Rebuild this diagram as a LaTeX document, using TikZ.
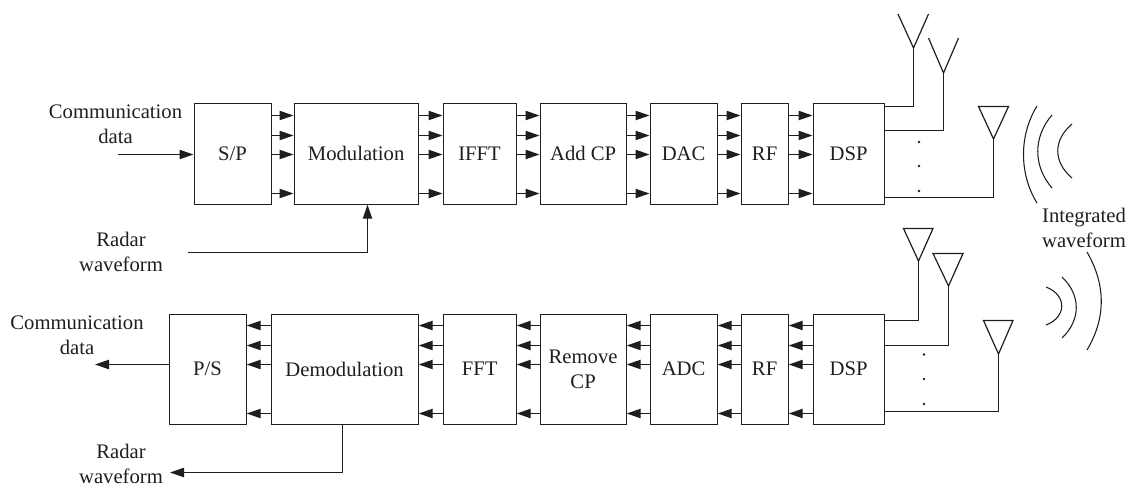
\documentclass[tikz,border=0pt]{standalone}
\usepackage{fontspec}
\setmainfont{Liberation Serif}
\usetikzlibrary{arrows.meta}
\definecolor{ink}{HTML}{1E1E1E}
\tikzset{
  x=0.75pt,y=-0.75pt,
  blockbox/.style={draw=ink,line width=0.9pt,inner sep=0pt,minimum height=#1*0.75pt,anchor=north west,text=ink,font=\fontsize{15.5pt}{18.7pt}\selectfont,align=center},
  lbl/.style={inner sep=0pt,text=ink,font=\fontsize{15.5pt}{18.7pt}\selectfont,align=center},
  flow/.style={-{Triangle[length=10.5pt,width=7pt]},draw=ink,line width=0.9pt},
  wire/.style={draw=ink,line width=0.9pt},
  wave/.style={draw=ink,line width=0.8pt},
  dotmark/.style={circle,fill=ink,draw=none,inner sep=0pt,minimum size=2pt},
}
\newcommand{\tbox}[6]{\node[blockbox=#5,minimum width=#2*0.75pt] (#1) at (#3,#4) {#6};}
\begin{document}
\begin{tikzpicture}
\useasboundingbox (0,0) rectangle (1141,486);
% rows
\foreach \n/\y in {ta/115.5,tb/135.5,tc/154.5,td/193.5,ba/325.5,bb/345.5,bc/364.5,bd/413.5}{\coordinate (\n) at (0,\y);}
% top chain
\tbox{sp}{77}{193.5}{102.5}{101}{S/P}
\tbox{mod}{124}{293.5}{102.5}{101}{Modulation}
\tbox{ifft}{73}{442.5}{102.5}{101}{IFFT}
\tbox{acp}{86}{539.5}{102.5}{101}{Add CP}
\tbox{dac}{67}{649.5}{102.5}{101}{DAC}
\tbox{rft}{47}{740.5}{102.5}{101}{RF}
\tbox{dspt}{71}{812.5}{102.5}{101}{DSP}
% bottom chain
\tbox{ps}{77}{168.5}{313.5}{110}{P/S}
\tbox{dem}{147}{270.5}{313.5}{110}{Demodulation}
\tbox{fft}{73}{442.5}{313.5}{110}{FFT}
\tbox{rcp}{86}{539.5}{313.5}{110}{Remove\\CP}
\tbox{adc}{67}{649.5}{313.5}{110}{ADC}
\tbox{rfb}{47}{740.5}{313.5}{110}{RF}
\tbox{dspb}{71}{812.5}{313.5}{110}{DSP}
% row arrows
\foreach \a/\b in {sp/mod,mod/ifft,ifft/acp,acp/dac,dac/rft,rft/dspt}{
  \foreach \r in {ta,tb,tc,td}{\draw[flow] (\a.east |- \r) -- (\b.west |- \r);}}
\foreach \a/\b in {dspb/rfb,rfb/adc,adc/rcp,rcp/fft,fft/dem,dem/ps}{
  \foreach \r in {ba,bb,bc,bd}{\draw[flow] (\a.west |- \r) -- (\b.east |- \r);}}
% labels
\node[lbl] (lct) at (115.5,124) {Communication\\data};
\node[lbl] (lrt) at (121,252) {Radar\\waveform};
\node[lbl] (lcb) at (77,335.5) {Communication\\data};
\node[lbl] (lrb) at (121,463.5) {Radar\\waveform};
\node[lbl] (liw) at (1084,228) {Integrated\\waveform};
% io
\coordinate (ci) at (118,154.5);
\draw[flow] (ci) -- (sp.west |- ci);
\coordinate (ri) at (188,252.5);
\coordinate (rk) at (367.5,252.5);
\draw[flow] (ri) -- (rk) -- (mod.south -| rk);
\coordinate (co) at (95,364.5);
\draw[flow] (ps.west |- co) -- (co);
\coordinate (rd) at (342.5,472.5);
\coordinate (ro) at (170,472.5);
\draw[flow] (dem.south -| rd) -- (rd) -- (ro);
% top antennas
\coordinate (a1) at (913.5,48); \coordinate (a2) at (943.5,73); \coordinate (a3) at (993.5,139);
\draw[wire] (dspt.east |- 0,106.5) -| (a1);
\draw[wire] (dspt.east |- 0,130.5) -| (a2);
\draw[wire] (dspt.east |- 0,197.5) -| (a3);
\draw[wire] (898,14) -- (a1) -- (928.5,14);
\draw[wire] (928.5,38) -- (a2) -- (958.5,38);
\draw[wire] (a3) -- (978.5,106.5) -- (1008.5,106.5) -- cycle;
\foreach \y/\n in {142/a,166/b,191/c}{\node[dotmark] (dt\n) at (919,\y) {};}
% bottom antennas
\coordinate (b1) at (918.5,261); \coordinate (b2) at (948.5,286); \coordinate (b3) at (998.5,354);
\draw[wire] (dspb.east |- 0,320.5) -| (b1);
\draw[wire] (dspb.east |- 0,345.5) -| (b2);
\draw[wire] (dspb.east |- 0,411.5) -| (b3);
\draw[wire] (b1) -- (903.5,228.5) -- (933,228.5) -- cycle;
\draw[wire] (b2) -- (933,253.5) -- (963,253.5) -- cycle;
\draw[wire] (b3) -- (983.5,320.5) -- (1013,320.5) -- cycle;
\foreach \y/\n in {354.5/a,379/b,404/c}{\node[dotmark] (db\n) at (924,\y) {};}
% waves
\draw[wave] (1037,106) .. controls (1019,135) and (1019,174) .. (1037,203);
\draw[wave] (1052,115) .. controls (1033,137) and (1033,166) .. (1052,188);
\draw[wave] (1072,124) .. controls (1053,140) and (1053,162) .. (1072,178);
\draw[wave] (1087,252) .. controls (1106,285) and (1106,318) .. (1087,350);
\draw[wave] (1062,277) .. controls (1081,295) and (1081,320) .. (1062,338);
\draw[wave] (1046,287) .. controls (1067,295) and (1067,317) .. (1046,325);
\end{tikzpicture}
\end{document}
